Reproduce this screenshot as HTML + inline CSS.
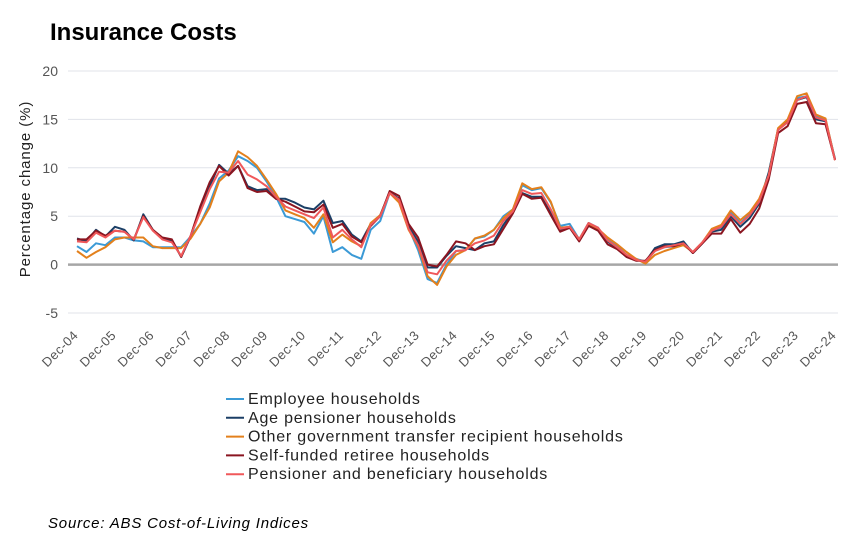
<!DOCTYPE html>
<html><head><meta charset="utf-8"><style>
body{margin:0;background:#fff;font-family:"Liberation Sans",sans-serif;}
#wrap{position:relative;width:850px;height:534px;overflow:hidden;}
</style></head><body>
<div id="wrap">
<svg id="chart" width="850" height="534">
<text x="50" y="40" font-size="24" font-weight="bold" fill="#000">Insurance Costs</text>
<g id="grid"></g>
<g id="yticks"></g>
<g id="xticks"></g>
<text transform="translate(30,189) rotate(-90)" text-anchor="middle" font-size="15" letter-spacing="0.9" fill="#222">Percentage change (%)</text>
<g id="series"></g>
<g id="legend"></g>
<text x="48" y="528" font-size="15" font-style="italic" letter-spacing="0.8" fill="#000">Source: ABS Cost-of-Living Indices</text>
</svg>
</div>
<script>
const yTicks=[20,15,10,5,0,-5];
const xLabels=["Dec-04","Dec-05","Dec-06","Dec-07","Dec-08","Dec-09","Dec-10","Dec-11","Dec-12","Dec-13","Dec-14","Dec-15","Dec-16","Dec-17","Dec-18","Dec-19","Dec-20","Dec-21","Dec-22","Dec-23","Dec-24"];
const seriesNames=["Employee households","Age pensioner households","Other government transfer recipient households","Self-funded retiree households","Pensioner and beneficiary households"];
const employee=[1.9,1.3,2.2,2.0,2.8,2.8,2.5,2.4,1.8,1.8,1.8,1.8,2.9,4.2,6.3,8.9,9.7,11.2,10.7,10.0,8.6,7.0,5.0,4.7,4.4,3.2,5.0,1.3,1.8,1.0,0.6,3.6,4.5,7.4,6.5,3.8,1.5,-1.5,-1.9,0.0,1.4,1.5,2.7,2.9,3.6,5.0,5.7,8.2,7.7,7.9,6.4,4.0,4.2,2.6,4.2,3.7,2.6,1.9,1.0,0.6,0.3,1.4,1.8,1.9,2.2,1.3,2.3,3.6,3.8,5.4,4.3,5.2,6.6,9.3,14.0,14.9,17.2,17.4,15.3,15.0,10.9];
const agePensioner=[2.7,2.4,3.6,2.9,3.9,3.6,2.5,5.2,3.6,2.7,2.5,0.8,2.9,5.8,8.1,10.3,9.4,10.2,8.1,7.7,7.8,6.8,6.8,6.4,5.9,5.7,6.6,4.3,4.5,3.1,2.4,4.2,5.1,7.5,6.8,3.9,2.4,-0.3,-0.3,0.9,1.9,1.7,1.5,2.2,2.4,4.1,5.5,7.4,7.0,7.0,5.3,3.6,3.9,2.6,4.3,3.8,2.4,1.7,0.8,0.5,0.3,1.7,2.1,2.1,2.4,1.2,2.2,3.4,3.6,5.0,3.9,4.8,6.3,9.5,14.0,14.8,17.0,17.3,15.0,14.8,10.9];
const otherGov=[1.4,0.7,1.3,1.8,2.6,2.8,2.8,2.8,1.9,1.7,1.7,1.7,2.7,4.2,5.9,8.6,9.5,11.7,11.1,10.2,8.8,7.3,5.6,5.2,4.8,3.8,5.2,2.3,3.1,2.4,1.9,4.3,5.1,7.4,6.4,3.6,1.9,-1.2,-2.1,-0.2,1.0,1.5,2.7,3.0,3.6,4.8,5.7,8.4,7.8,8.0,6.5,3.8,3.9,2.6,4.2,3.7,2.8,2.1,1.3,0.6,0.1,1.0,1.4,1.7,2.0,1.3,2.3,3.7,4.1,5.6,4.6,5.4,6.8,9.2,14.1,15.0,17.4,17.7,15.5,15.1,10.8];
const selfFunded=[2.6,2.6,3.5,3.0,3.5,3.4,2.6,5.0,3.6,2.8,2.6,0.8,3.0,6.0,8.5,10.2,9.2,10.2,7.9,7.5,7.6,6.8,6.5,6.0,5.5,5.4,6.2,3.8,4.2,2.9,2.3,4.0,5.0,7.6,7.1,4.2,2.8,0.0,-0.2,1.0,2.4,2.2,1.5,1.9,2.1,3.7,5.3,7.3,6.8,6.9,5.1,3.4,3.8,2.4,4.0,3.5,2.1,1.6,0.8,0.4,0.4,1.5,1.9,1.9,2.2,1.2,2.2,3.2,3.2,4.7,3.3,4.2,5.8,8.8,13.6,14.3,16.6,16.8,14.6,14.5,10.8];
const pensionerBenef=[2.4,2.3,3.3,2.8,3.5,3.4,2.6,4.9,3.5,2.6,2.3,0.9,3.0,5.4,7.8,9.6,9.5,10.7,9.3,8.8,8.1,7.0,6.0,5.6,5.2,4.8,5.9,2.8,3.6,2.6,1.8,4.1,5.0,7.4,6.7,3.7,2.0,-0.8,-1.0,0.4,1.4,1.5,2.2,2.5,3.0,4.5,5.5,7.7,7.3,7.4,5.7,3.7,3.9,2.6,4.3,3.8,2.5,1.8,1.0,0.5,0.3,1.4,1.8,2.0,2.2,1.3,2.3,3.5,3.9,5.2,4.2,5.1,6.5,9.2,13.9,14.7,17.0,17.4,15.2,14.9,10.8];

const NS="http://www.w3.org/2000/svg";
const X0=77,X1=835,Y20=71,Ym5=313,PL=68,PR=838;
const nQ=employee.length-1;
function xq(i){return X0+(X1-X0)*i/nQ;}
function yv(v){return Y20+(20-v)*(Ym5-Y20)/25;}
function mk(tag,attrs,parent){const e=document.createElementNS(NS,tag);for(const k in attrs)e.setAttribute(k,attrs[k]);parent.appendChild(e);return e;}

const grid=document.getElementById('grid'),yt=document.getElementById('yticks'),xt=document.getElementById('xticks');
yTicks.forEach(t=>{
  const l=mk('line',{x1:PL,x2:PR,y1:yv(t),y2:yv(t),stroke:t===0?'#a6a6a6':'#e0e3ea','stroke-width':t===0?2.5:1},grid);
  
  
  const tx=mk('text',{x:58,y:yv(t)+5,'text-anchor':'end','font-size':14,fill:'#555'},yt);
  tx.textContent=t;
  
  
});
xLabels.forEach((lab,k)=>{
  const x=xq(k*4);
  const tx=mk('text',{x:0,y:0,'text-anchor':'end','font-size':13,'letter-spacing':0.5,fill:'#555',transform:`translate(${x+2},${336}) rotate(-45)`},xt);
  tx.textContent=lab;
  
  
});
const colors=["#3b9ad6","#1b3f66","#e3801c","#8a1520","#f0585a"];
const allSeries=[employee,agePensioner,otherGov,selfFunded,pensionerBenef];
const sg=document.getElementById('series');
allSeries.forEach((arr,s)=>{
  const d=arr.map((v,i)=>(i?'L':'M')+xq(i).toFixed(1)+','+yv(v).toFixed(1)).join(' ');
  const p=mk('path',{d:d,fill:'none',stroke:colors[s],'stroke-width':2,'stroke-linejoin':'round'},sg);
  
  
});
const lg=document.getElementById('legend');
seriesNames.forEach((n,s)=>{
  const y=399+s*18.8;
  const ln=mk('line',{x1:226,x2:244,y1:y,y2:y,stroke:colors[s],'stroke-width':2},lg);
  
  
  const tx=mk('text',{x:248,y:y+5,'font-size':16,'letter-spacing':0.8,fill:'#222'},lg);
  tx.textContent=n;
  
  
});
</script>
</body></html>
